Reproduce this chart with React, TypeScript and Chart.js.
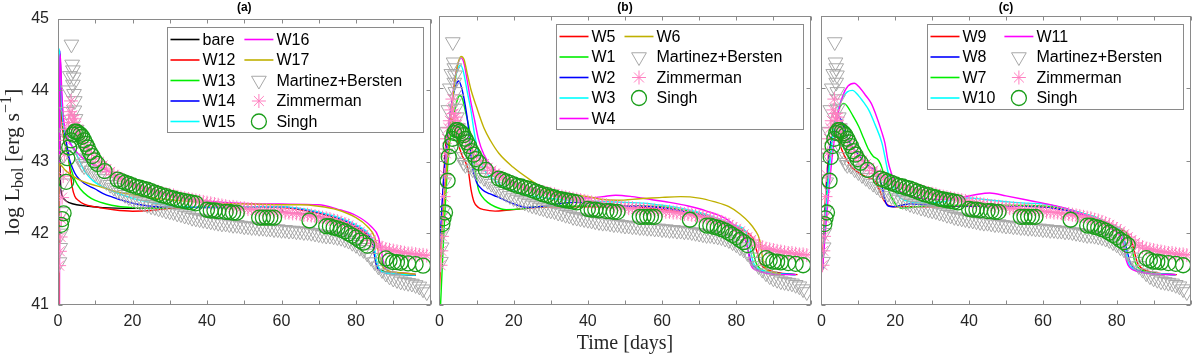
import React, { useEffect, useRef } from 'react';
import { Chart, registerables } from 'chart.js';

Chart.register(...registerables);

type P = [number, number];

// ---------- ticks / texts ----------
const xTickValues = [0, 10, 20, 30, 40, 50, 60, 70, 80, 90, 100];
const xTickLabels = ['0', '', '20', '', '40', '', '60', '', '80', '', ''];
const yTickValues = [41, 42, 43, 44, 45];
const yTickLabels = ['41', '42', '43', '44', '45'];
const xTitle = 'Time [days]';

// ---------- observations (same in all panels) ----------
const martinezBersten: P[] = [
  [0.4, 41.6], [0.6, 41.8], [0.8, 42.0], [1.0, 42.3], [1.3, 42.7], [1.6, 43.1], [2.0, 43.4], [2.4, 43.7],
  [2.8, 44.0], [3.2, 44.2], [3.6, 44.64], [3.8, 44.36], [4.0, 44.28], [4.2, 44.18], [4.0, 44.08], [4.3, 43.95],
  [4.5, 43.85], [4.4, 43.72], [4.7, 43.6], [5.0, 43.45], [5.3, 43.3], [5.6, 43.15], [6.0, 43.05], [6.5, 42.97],
  [7.0, 42.94], [8, 42.93], [9, 42.88], [10, 42.84], [11, 42.8], [12, 42.76], [13, 42.72], [14, 42.68],
  [15, 42.64], [16, 42.6], [17, 42.57], [18, 42.54], [19, 42.51], [20, 42.48], [21, 42.46], [22, 42.44],
  [23, 42.42], [24, 42.4], [25, 42.38], [26, 42.37], [27, 42.35], [28, 42.34], [29, 42.32], [30, 42.31],
  [31, 42.3], [32, 42.28], [33, 42.27], [34, 42.25], [35, 42.24], [36, 42.22], [37, 42.21], [38, 42.2],
  [39, 42.19], [40, 42.18], [41, 42.17], [42, 42.16], [43, 42.15], [44, 42.14], [45, 42.14], [46, 42.13],
  [47, 42.12], [48, 42.12], [49, 42.11], [50, 42.1], [51, 42.1], [52, 42.09], [53, 42.09], [54, 42.08],
  [55, 42.08], [56, 42.07], [57, 42.07], [58, 42.06], [59, 42.06], [60, 42.05], [61, 42.05], [62, 42.04],
  [63, 42.04], [64, 42.03], [65, 42.03], [66, 42.02], [67, 42.02], [68, 42.01], [69, 42.0], [70, 41.99],
  [71, 41.98], [72, 41.97], [73, 41.97], [74, 41.96], [75, 41.95], [76, 41.94], [77, 41.92], [78, 41.9],
  [79, 41.87], [80, 41.84], [81, 41.8], [82, 41.77], [83, 41.72], [84, 41.66], [85, 41.6], [86, 41.54],
  [87, 41.49], [88, 41.44], [89, 41.4], [90, 41.37], [91, 41.35], [92, 41.33], [93, 41.32], [94, 41.31],
  [95, 41.3], [96, 41.28], [97, 41.26], [98, 41.22], [99, 41.18],
];

const zimmerman: P[] = [
  [0.3, 41.55], [0.5, 41.75], [0.7, 41.95], [0.9, 42.2], [1.1, 42.5], [1.4, 42.8], [1.7, 43.1], [2.0, 43.3],
  [2.4, 43.45], [2.8, 43.55], [3.2, 43.7], [3.5, 43.85], [3.8, 43.65], [4.1, 43.55], [4.4, 43.6], [4.8, 43.5],
  [5.2, 43.45], [5.6, 43.4], [6, 43.35], [7, 43.27], [8, 43.19], [9, 43.12], [10, 43.05], [11, 43.0],
  [12, 42.95], [13, 42.9], [14, 42.86], [15, 42.82], [16, 42.79], [17, 42.76], [18, 42.73], [19, 42.71],
  [20, 42.69], [21, 42.67], [22, 42.65], [23, 42.63], [24, 42.62], [25, 42.6], [26, 42.59], [27, 42.58],
  [28, 42.56], [29, 42.55], [30, 42.54], [31, 42.53], [32, 42.51], [33, 42.5], [34, 42.49], [35, 42.48],
  [36, 42.47], [37, 42.46], [38, 42.45], [39, 42.44], [40, 42.43], [41, 42.42], [42, 42.41], [43, 42.4],
  [44, 42.39], [45, 42.38], [46, 42.37], [47, 42.37], [48, 42.36], [49, 42.35], [50, 42.35], [51, 42.34],
  [52, 42.34], [53, 42.33], [54, 42.33], [55, 42.32], [56, 42.32], [57, 42.31], [58, 42.31], [59, 42.3],
  [60, 42.3], [61, 42.29], [62, 42.29], [63, 42.28], [64, 42.28], [65, 42.27], [66, 42.26], [67, 42.26],
  [68, 42.25], [69, 42.24], [70, 42.23], [71, 42.22], [72, 42.21], [73, 42.2], [74, 42.18], [75, 42.17],
  [76, 42.15], [77, 42.13], [78, 42.11], [79, 42.08], [80, 42.05], [81, 42.02], [82, 41.98], [83, 41.94],
  [84, 41.9], [85, 41.86], [86, 41.82], [87, 41.8], [88, 41.78], [89, 41.77], [90, 41.76], [91, 41.75],
  [92, 41.74], [93, 41.73], [94, 41.72], [95, 41.72], [96, 41.71], [97, 41.7], [98, 41.7], [99, 41.69],
];

const singh: P[] = [
  [0.8, 42.12], [1.1, 42.2], [1.5, 42.28], [2.2, 42.72], [2.5, 43.05], [3.0, 43.2], [3.5, 43.3], [4.0, 43.38],
  [4.5, 43.42], [5.0, 43.42], [5.5, 43.4], [6.0, 43.38], [6.5, 43.35], [7.0, 43.3], [7.5, 43.25], [8.0, 43.2],
  [8.6, 43.13], [9.2, 43.08], [9.8, 43.02], [10.6, 42.97], [12.5, 42.87], [16, 42.75], [17, 42.73], [18, 42.71],
  [19, 42.69], [20, 42.67], [21, 42.65], [22, 42.64], [23, 42.62], [24, 42.61], [25, 42.59], [26, 42.57],
  [27, 42.55], [28, 42.53], [29, 42.52], [30, 42.5], [31, 42.49], [32, 42.47], [33, 42.46], [34, 42.45],
  [35, 42.44], [36, 42.43], [37, 42.42], [40, 42.33], [41, 42.32], [42, 42.32], [43, 42.31], [45, 42.3],
  [46, 42.3], [47, 42.29], [48, 42.29], [54, 42.22], [55, 42.22], [56, 42.22], [57, 42.22], [58, 42.22],
  [67.5, 42.18], [72, 42.1], [73, 42.1], [74, 42.08], [75, 42.07], [76, 42.05], [77, 42.03], [78, 42.0],
  [79, 41.97], [80, 41.94], [81, 41.9], [82, 41.87], [83, 41.83], [88, 41.65], [89, 41.62], [90, 41.6],
  [91, 41.6], [92, 41.59], [94, 41.58], [96, 41.57], [98, 41.55],
];

// ---------- panel (a) models ----------
const bare: P[] = [
  [0.15, 41.0], [0.25, 43.0], [0.35, 44.35], [0.45, 43.6], [0.6, 42.85], [0.8, 42.62], [1.2, 42.52], [2, 42.46],
  [3, 42.43], [5, 42.4], [8, 42.38], [12, 42.36], [20, 42.35], [30, 42.36], [40, 42.37], [50, 42.37],
  [59.5, 42.37], [60.5, 42.3], [65, 42.28], [70, 42.24], [75, 42.17], [80, 42.07], [83.5, 41.95], [84.5, 41.85],
  [85.3, 41.62], [86, 41.52], [87.5, 41.47], [91, 41.44], [96, 41.42],
];
const w12: P[] = [
  [0.3, 41.0], [0.35, 43.5], [0.45, 44.5], [0.7, 44.0], [1.0, 43.6], [1.5, 43.35], [2.2, 43.2], [2.8, 43.05],
  [3.3, 42.85], [3.8, 42.65], [4.5, 42.52], [5.5, 42.46], [7, 42.41], [10, 42.37], [15, 42.33], [20, 42.31],
  [25, 42.32], [30, 42.35], [40, 42.37], [50, 42.37], [60, 42.36], [65, 42.33], [70, 42.28], [75, 42.2],
  [80, 42.08], [83.5, 41.95], [84.5, 41.85], [85.3, 41.6], [86, 41.5], [88, 41.46], [92, 41.43], [96, 41.42],
];
const w13: P[] = [
  [0.3, 41.0], [0.4, 44.2], [0.55, 44.5], [0.8, 44.0], [1.5, 43.4], [2.5, 43.1], [3.5, 42.9], [4.5, 42.75],
  [6, 42.62], [8, 42.52], [10, 42.46], [13, 42.41], [16, 42.38], [20, 42.36], [25, 42.35], [30, 42.36],
  [40, 42.37], [50, 42.37], [60, 42.37], [65, 42.34], [70, 42.29], [75, 42.21], [80, 42.1], [83.5, 41.97],
  [84.5, 41.88], [85.3, 41.62], [86, 41.52], [88, 41.46], [92, 41.43], [96, 41.42],
];
const w14: P[] = [
  [0.3, 41.0], [0.4, 44.3], [0.5, 44.55], [0.8, 44.1], [1.2, 43.7], [1.8, 43.4], [2.5, 43.2], [3, 43.05],
  [4, 42.9], [5, 42.8], [7, 42.7], [10, 42.62], [12, 42.56], [15, 42.5], [18, 42.45], [21, 42.41],
  [25, 42.38], [30, 42.37], [40, 42.36], [50, 42.37], [60, 42.37], [65, 42.34], [70, 42.29], [75, 42.22],
  [80, 42.1], [83.5, 41.97], [84.5, 41.87], [85.2, 41.62], [86, 41.5], [88, 41.45], [92, 41.43], [96, 41.42],
];
const w15: P[] = [
  [0.25, 41.0], [0.3, 44.58], [0.6, 44.3], [1, 43.8], [1.5, 43.5], [2, 43.4], [3, 43.3], [5, 43.1],
  [7, 42.88], [9.5, 42.73], [13, 42.63], [16.6, 42.55], [20, 42.49], [25, 42.43], [30, 42.39], [35, 42.37],
  [40, 42.37], [50, 42.37], [60, 42.37], [65, 42.35], [70, 42.3], [75, 42.23], [80, 42.12], [83.5, 41.99],
  [84.7, 41.88], [85.5, 41.62], [86.3, 41.5], [88, 41.45], [92, 41.43], [96, 41.42],
];
const w16: P[] = [
  [0.4, 41.0], [0.45, 44.0], [0.6, 44.5], [1.0, 44.0], [1.5, 43.6], [2.5, 43.35], [4, 43.2], [6, 43.08],
  [8, 43.0], [10, 42.95], [12, 42.91], [15, 42.82], [20, 42.7], [25.5, 42.6], [30, 42.53], [35, 42.48],
  [40, 42.45], [50, 42.42], [60, 42.41], [70, 42.4], [75, 42.34], [80, 42.25], [84, 42.1], [86, 41.95],
  [86.8, 41.75], [87.6, 41.55], [89, 41.47], [92, 41.45], [96, 41.43],
];
const w17: P[] = [
  [0.2, 41.0], [0.3, 42.97], [2, 42.88], [4, 42.8], [6, 42.74], [8, 42.7], [12, 42.64], [16, 42.58],
  [20, 42.54], [25, 42.5], [30, 42.47], [40, 42.43], [50, 42.41], [60, 42.4], [65, 42.4], [70, 42.38],
  [75, 42.33], [80, 42.22], [83, 42.1], [85, 41.95], [86, 41.75], [87, 41.55], [88.5, 41.48], [92, 41.45],
  [96, 41.43],
];

// ---------- panel (b) models ----------
const w5: P[] = [
  [0, 41.2], [0.5, 41.9], [1, 42.6], [1.5, 43.1], [2, 43.35], [2.7, 43.5], [3.5, 43.57], [4.2, 43.45],
  [5, 43.25], [6, 43.08], [7, 42.98], [7.8, 42.85], [8.5, 42.6], [9.3, 42.43], [10.5, 42.35], [12, 42.32],
  [15, 42.3], [18, 42.31], [22, 42.33], [30, 42.36], [40, 42.36], [50, 42.36], [57, 42.34], [65, 42.28],
  [71, 42.22], [76, 42.15], [80, 42.07], [83, 42.0], [84.5, 41.92], [85.5, 41.75], [86.5, 41.58], [88, 41.5],
  [91, 41.45], [96.5, 41.42],
];
const w1: P[] = [
  [0.3, 41.0], [1, 41.8], [1.8, 42.6], [2.5, 43.1], [3.5, 43.5], [4.5, 43.78], [5.5, 43.9], [6.2, 43.85],
  [7, 43.68], [8, 43.45], [9, 43.1], [9.8, 42.8], [10.5, 42.6], [11.5, 42.5], [13, 42.42], [15, 42.36],
  [18, 42.32], [22, 42.33], [26, 42.36], [35, 42.37], [45, 42.37], [55, 42.37], [60, 42.36], [65, 42.32],
  [70, 42.27], [75, 42.19], [80, 42.08], [83, 41.98], [84.3, 41.8], [85.2, 41.6], [86.5, 41.5], [89, 41.45],
  [96, 41.42],
];
const w2: P[] = [
  [0, 41.7], [0.7, 42.4], [1.5, 43.0], [2.5, 43.5], [3.5, 43.85], [4.5, 44.05], [5.2, 44.1], [6, 44.0],
  [7, 43.75], [7.7, 43.5], [8.4, 43.1], [9, 42.88], [10, 42.7], [11.5, 42.6], [13.5, 42.54], [15.5, 42.5],
  [19, 42.42], [23.5, 42.35], [27, 42.36], [32, 42.4], [37, 42.42], [42, 42.4], [50, 42.37], [57, 42.36],
  [63, 42.32], [70, 42.25], [75, 42.17], [79, 42.06], [81.5, 41.98], [82.8, 41.85], [83.8, 41.62], [85, 41.52],
  [87, 41.47], [91, 41.44], [96, 41.42],
];
const w3: P[] = [
  [0, 41.5], [0.8, 42.2], [1.8, 42.9], [2.8, 43.5], [3.8, 43.95], [4.8, 44.25], [5.7, 44.32], [6.5, 44.22],
  [7.5, 43.95], [8.4, 43.72], [9.5, 43.35], [11, 43.0], [12.5, 42.84], [14, 42.76], [17, 42.65], [21.6, 42.55],
  [26, 42.5], [30.5, 42.47], [35, 42.45], [40, 42.44], [45, 42.43], [50, 42.42], [55, 42.41], [60, 42.38],
  [65, 42.34], [70, 42.28], [75, 42.2], [80, 42.1], [82.5, 42.02], [83.5, 41.85], [84.5, 41.6], [85.5, 41.52],
  [88, 41.46], [92, 41.43], [96, 41.42],
];
const w4: P[] = [
  [0, 41.5], [0.8, 42.2], [1.8, 42.9], [2.8, 43.5], [3.8, 44.0], [4.8, 44.3], [5.8, 44.42], [6.6, 44.35],
  [7.5, 44.1], [8.5, 43.8], [9.5, 43.55], [10.5, 43.3], [12, 43.08], [14, 42.92], [17, 42.78], [21, 42.66],
  [26, 42.58], [30, 42.53], [35, 42.49], [40, 42.48], [44, 42.5], [47.5, 42.52], [52, 42.5], [57, 42.46],
  [62, 42.42], [67, 42.37], [72, 42.3], [77, 42.2], [80, 42.08], [82, 41.98], [83, 41.8], [84, 41.55],
  [85.5, 41.48], [88, 41.44], [92, 41.42], [96, 41.42],
];
const w6: P[] = [
  [0, 41.4], [0.8, 42.1], [1.8, 42.8], [2.8, 43.4], [3.8, 43.95], [4.8, 44.3], [5.8, 44.44], [6.6, 44.4],
  [7.5, 44.2], [8.5, 43.98], [10, 43.74], [12, 43.45], [13.7, 43.28], [16, 43.1], [19.8, 42.91], [24, 42.75],
  [28.7, 42.6], [32, 42.55], [36, 42.52], [40, 42.5], [44, 42.46], [48, 42.45], [54, 42.47], [60, 42.49],
  [65, 42.5], [70, 42.48], [74, 42.43], [78, 42.36], [81, 42.26], [83.5, 42.14], [85, 42.04], [86.3, 41.9],
  [87.1, 41.65], [88, 41.5], [90, 41.45], [92, 41.43],
];

// ---------- panel (c) models ----------
const w9: P[] = [
  [0.3, 41.6], [0.9, 42.3], [1.6, 42.9], [2.4, 43.2], [3.5, 43.38], [4.5, 43.3], [5.5, 43.15], [6.6, 43.03],
  [8, 42.92], [9.5, 42.85], [11, 42.8], [12.8, 42.76], [14.5, 42.72], [15.5, 42.62], [16.4, 42.5], [17.5, 42.41],
  [18.5, 42.37], [20, 42.36], [30, 42.36], [40, 42.37], [50, 42.37], [60, 42.36], [65, 42.33], [70, 42.27],
  [75, 42.18], [80, 42.06], [83.5, 41.95], [84.5, 41.8], [85.5, 41.6], [86.5, 41.52], [89, 41.46], [93, 41.43],
  [96.3, 41.42],
];
const w8: P[] = [
  [0.4, 41.5], [1, 42.3], [1.8, 42.9], [2.8, 43.35], [3.8, 43.55], [4.8, 43.6], [5.8, 43.5], [7, 43.32],
  [8.4, 43.19], [10, 43.08], [12, 42.96], [13.5, 42.9], [14.7, 42.86], [15.9, 42.73], [16.6, 42.6], [17.2, 42.45],
  [18.1, 42.37], [19.5, 42.36], [21.6, 42.38], [24, 42.4], [30, 42.38], [40, 42.37], [50, 42.37], [60, 42.36],
  [65, 42.32], [70, 42.26], [75, 42.17], [79.4, 42.03], [81.9, 41.92], [82.8, 41.75], [83.8, 41.57], [85, 41.5],
  [88, 41.45], [92, 41.43], [96, 41.42],
];
const w7: P[] = [
  [0.3, 41.5], [1, 42.2], [2, 42.9], [3, 43.35], [4, 43.6], [5, 43.74], [6.1, 43.79], [7, 43.75],
  [8.5, 43.62], [10.1, 43.47], [11.5, 43.3], [12.8, 43.15], [14, 43.06], [15.5, 43.0], [16.5, 42.88], [17.2, 42.73],
  [18.5, 42.55], [19.9, 42.41], [21.6, 42.34], [24, 42.35], [28, 42.37], [40, 42.38], [50, 42.38], [60, 42.37],
  [65, 42.34], [70, 42.28], [75, 42.2], [80, 42.08], [83, 41.97], [84, 41.82], [84.8, 41.62], [85.8, 41.52],
  [88, 41.46], [92, 41.43], [96, 41.42],
];
const w10: P[] = [
  [0.3, 41.5], [1, 42.1], [2, 42.8], [3, 43.3], [4, 43.6], [5.5, 43.85], [7, 43.95], [8.4, 43.97],
  [10, 43.9], [11.5, 43.8], [12.8, 43.7], [14.5, 43.5], [16.4, 43.24], [17.2, 43.05], [18.1, 42.83], [19.9, 42.59],
  [21, 42.5], [22.5, 42.45], [25, 42.42], [28.7, 42.41], [33, 42.43], [37, 42.47], [40, 42.48], [44, 42.46],
  [50, 42.43], [55, 42.41], [60, 42.4], [65, 42.35], [70, 42.28], [75, 42.2], [79, 42.1], [81.5, 42.0],
  [82.3, 41.8], [83.2, 41.58], [84.5, 41.5], [87, 41.45], [92, 41.43], [96, 41.42],
];
const w11: P[] = [
  [0.3, 41.5], [1.2, 42.1], [2.4, 42.8], [3.5, 43.3], [4.5, 43.65], [5.8, 43.9], [7.2, 44.03], [8.9, 44.07],
  [10.5, 44.0], [12, 43.9], [13.5, 43.79], [15, 43.6], [16.3, 43.4], [17.2, 43.24], [18, 43.0], [18.9, 42.83],
  [20.5, 42.62], [23, 42.53], [27, 42.48], [32, 42.46], [37, 42.48], [42, 42.53], [45.6, 42.55], [50, 42.51],
  [57, 42.44], [62, 42.39], [66, 42.34], [70, 42.27], [75, 42.18], [80.3, 41.99], [81.8, 41.85], [82.6, 41.62],
  [83.5, 41.52], [86, 41.46], [90, 41.43], [96, 41.42],
];

// ---------- styles ----------
const RED = '#ff0000';
const GREEN = '#00ee00';
const BLUE = '#0000ff';
const CYAN = '#00ffff';
const MAGENTA = '#ff00ff';
const OLIVE = '#bfb000';
const BLACK = '#000000';
const TRI_GREY = '#a8a8a8';
const PINK = '#ff7fc0';
const SINGH_GREEN = '#1a9e1a';
const AXIS_GREY = '#8a8a8a';
const TEXT = '#262626';
const SANS = '"Liberation Sans", Arial, Helvetica, sans-serif';
const SERIF = '"Liberation Serif", "Times New Roman", serif';

interface LineSeries { label: string; data: P[]; color: string }
interface PanelCfg {
  title: string;
  lines: LineSeries[];
  rows: number;
  left: number;
  width: number;
  padLeft: number;
  padRight: number;
  showY: boolean;
  showXTitle: boolean;
}

const panels: PanelCfg[] = [
  {
    title: '(a)',
    lines: [
      { label: 'bare', data: bare, color: BLACK },
      { label: 'W12', data: w12, color: RED },
      { label: 'W13', data: w13, color: GREEN },
      { label: 'W14', data: w14, color: BLUE },
      { label: 'W15', data: w15, color: CYAN },
      { label: 'W16', data: w16, color: MAGENTA },
      { label: 'W17', data: w17, color: OLIVE },
    ],
    rows: 5, left: 0, width: 440, padLeft: 0, padRight: 7, showY: true, showXTitle: false,
  },
  {
    title: '(b)',
    lines: [
      { label: 'W5', data: w5, color: RED },
      { label: 'W1', data: w1, color: GREEN },
      { label: 'W2', data: w2, color: BLUE },
      { label: 'W3', data: w3, color: CYAN },
      { label: 'W4', data: w4, color: MAGENTA },
      { label: 'W6', data: w6, color: OLIVE },
    ],
    rows: 5, left: 428, width: 392, padLeft: 10, padRight: 7, showY: false, showXTitle: true,
  },
  {
    title: '(c)',
    lines: [
      { label: 'W9', data: w9, color: RED },
      { label: 'W8', data: w8, color: BLUE },
      { label: 'W7', data: w7, color: GREEN },
      { label: 'W10', data: w10, color: CYAN },
      { label: 'W11', data: w11, color: MAGENTA },
    ],
    rows: 4, left: 810, width: 390, padLeft: 9, padRight: 6, showY: false, showXTitle: false,
  },
];

// ---------- drawing helpers ----------
function drawMarker(ctx: CanvasRenderingContext2D, style: string, x: number, y: number, r: number, rotDeg: number, color: string, lw: number) {
  ctx.save();
  ctx.strokeStyle = color;
  ctx.lineWidth = lw;
  ctx.beginPath();
  if (style === 'triangle') {
    let rad = (rotDeg * Math.PI) / 180;
    ctx.moveTo(x + Math.sin(rad) * r, y - Math.cos(rad) * r);
    rad += (2 * Math.PI) / 3;
    ctx.lineTo(x + Math.sin(rad) * r, y - Math.cos(rad) * r);
    rad += (2 * Math.PI) / 3;
    ctx.lineTo(x + Math.sin(rad) * r, y - Math.cos(rad) * r);
    ctx.closePath();
  } else if (style === 'star') {
    ctx.moveTo(x, y - r); ctx.lineTo(x, y + r);
    ctx.moveTo(x - r, y); ctx.lineTo(x + r, y);
    const d = r * Math.SQRT1_2;
    ctx.moveTo(x - d, y - d); ctx.lineTo(x + d, y + d);
    ctx.moveTo(x - d, y + d); ctx.lineTo(x + d, y - d);
  } else {
    ctx.arc(x, y, r, 0, Math.PI * 2);
  }
  ctx.stroke();
  ctx.restore();
}

function drawYLabel(ctx: CanvasRenderingContext2D, cx: number, cy: number) {
  const big = 22;
  const small = 16;
  const segs = [
    { t: 'log L', s: big, dy: 0 },
    { t: 'bol', s: small, dy: 4 },
    { t: ' [erg s', s: big, dy: 0 },
    { t: '\u22121', s: small, dy: -8 },
    { t: ']', s: big, dy: 0 },
  ];
  ctx.save();
  ctx.translate(cx, cy);
  ctx.rotate(-Math.PI / 2);
  ctx.fillStyle = TEXT;
  ctx.textBaseline = 'alphabetic';
  ctx.textAlign = 'left';
  let total = 0;
  const widths = segs.map((sg) => {
    ctx.font = `${sg.s}px ${SERIF}`;
    const w = ctx.measureText(sg.t).width;
    total += w;
    return w;
  });
  let x = -total / 2;
  const base = 5;
  segs.forEach((sg, i) => {
    ctx.font = `${sg.s}px ${SERIF}`;
    ctx.fillText(sg.t, x, base + sg.dy);
    x += widths[i];
  });
  ctx.restore();
}

function makeDecoPlugin(cfg: PanelCfg) {
  return {
    id: 'panelDeco',
    afterDraw(chart: any) {
      const ctx: CanvasRenderingContext2D = chart.ctx;
      const area = chart.chartArea;
      const xs = chart.scales.x;
      const ys = chart.scales.y;
      const L = Math.round(area.left) + 0.5;
      const R = Math.round(area.right) - 0.5;
      const T = Math.round(area.top) + 0.5;
      const B = Math.round(area.bottom) - 0.5;
      ctx.save();
      ctx.strokeStyle = AXIS_GREY;
      ctx.lineWidth = 1;
      ctx.strokeRect(L, T, R - L, B - T);
      const tl = 4;
      ctx.beginPath();
      for (const v of xTickValues) {
        const px = Math.round(xs.getPixelForValue(v)) + 0.5;
        ctx.moveTo(px, B); ctx.lineTo(px, B - tl);
        ctx.moveTo(px, T); ctx.lineTo(px, T + tl);
      }
      for (const v of yTickValues) {
        const py = Math.round(ys.getPixelForValue(v)) + 0.5;
        ctx.moveTo(L, py); ctx.lineTo(L + tl, py);
        ctx.moveTo(R, py); ctx.lineTo(R - tl, py);
      }
      ctx.stroke();

      // panel title
      ctx.fillStyle = '#000';
      ctx.font = `bold 12px ${SANS}`;
      ctx.textAlign = 'center';
      ctx.textBaseline = 'middle';
      ctx.fillText(cfg.title, (area.left + area.right) / 2, 8);

      if (cfg.showY) drawYLabel(ctx, 14, (area.top + area.bottom) / 2);

      // legend (two columns, column-major)
      const ds = chart.data.datasets;
      const rows = cfg.rows;
      ctx.font = `16px ${SANS}`;
      const col1 = ds.slice(0, rows);
      const col2 = ds.slice(rows);
      const w1 = Math.max(...col1.map((d: any) => ctx.measureText(d.label).width));
      const w2 = Math.max(...col2.map((d: any) => ctx.measureText(d.label).width));
      const pad = 3, sample = 29, gapT = 3, colGap = 9, rightPad = 22, rowH = 20.5;
      const width = pad + sample + gapT + w1 + colGap + sample + gapT + w2 + rightPad;
      const height = rows * rowH + 2.5;
      const right = Math.round(area.right - 8) + 0.5;
      const left = Math.round(right - width) + 0.5;
      const top = Math.round(area.top + 8) + 0.5;
      ctx.fillStyle = '#ffffff';
      ctx.fillRect(left, top, right - left, height);
      ctx.strokeStyle = AXIS_GREY;
      ctx.lineWidth = 1;
      ctx.strokeRect(left, top, right - left, Math.round(height));
      ds.forEach((d: any, i: number) => {
        const col = i < rows ? 0 : 1;
        const r = i % rows;
        const cy = top + 12 + r * rowH;
        const sx = left + pad + (col ? sample + gapT + w1 + colGap : 0);
        if (d.showLine === false) {
          drawMarker(ctx, d.pointStyle, sx + sample / 2, cy, d.pointRadius, d.pointRotation || 0, d.pointBorderColor, d.pointBorderWidth);
        } else {
          ctx.strokeStyle = d.borderColor;
          ctx.lineWidth = 1.6;
          ctx.beginPath();
          ctx.moveTo(sx, cy);
          ctx.lineTo(sx + sample, cy);
          ctx.stroke();
        }
        ctx.fillStyle = '#000';
        ctx.font = `16px ${SANS}`;
        ctx.textAlign = 'left';
        ctx.textBaseline = 'middle';
        ctx.fillText(d.label, sx + sample + gapT, cy + 1);
      });
      ctx.restore();
    },
  };
}

function toXY(arr: P[]) {
  return arr.map(([x, y]) => ({ x, y }));
}

function buildConfig(cfg: PanelCfg): any {
  const n = cfg.lines.length;
  const lineSets = cfg.lines.map((s, i) => ({
    label: s.label,
    data: toXY(s.data),
    borderColor: s.color,
    backgroundColor: s.color,
    borderWidth: 1.4,
    pointRadius: 0,
    fill: false,
    cubicInterpolationMode: 'monotone',
    order: 100 - i,
    clip: 0,
  }));
  const obsSets = [
    {
      label: 'Martinez+Bersten', data: toXY(martinezBersten), showLine: false,
      pointStyle: 'triangle', pointRotation: 180, pointRadius: 8.5,
      pointBorderColor: TRI_GREY, pointBackgroundColor: 'rgba(0,0,0,0)', pointBorderWidth: 1,
      borderColor: TRI_GREY, backgroundColor: 'rgba(0,0,0,0)', order: 3, clip: 0,
    },
    {
      label: 'Zimmerman', data: toXY(zimmerman), showLine: false,
      pointStyle: 'star', pointRotation: 0, pointRadius: 7,
      pointBorderColor: PINK, pointBackgroundColor: 'rgba(0,0,0,0)', pointBorderWidth: 1,
      borderColor: PINK, backgroundColor: 'rgba(0,0,0,0)', order: 2, clip: 0,
    },
    {
      label: 'Singh', data: toXY(singh), showLine: false,
      pointStyle: 'circle', pointRotation: 0, pointRadius: 7.5,
      pointBorderColor: SINGH_GREEN, pointBackgroundColor: 'rgba(0,0,0,0)', pointBorderWidth: 1.3,
      borderColor: SINGH_GREEN, backgroundColor: 'rgba(0,0,0,0)', order: 1, clip: 0,
    },
  ];
  void n;
  return {
    type: 'line',
    data: { datasets: [...lineSets, ...obsSets] },
    options: {
      responsive: false,
      maintainAspectRatio: false,
      devicePixelRatio: 1,
      animation: false,
      events: [],
      layout: { padding: { top: 16, bottom: 0, left: cfg.padLeft, right: cfg.padRight } },
      plugins: {
        legend: { display: false },
        tooltip: { enabled: false },
        title: { display: false },
      },
      scales: {
        x: {
          type: 'linear',
          min: 0,
          max: 100,
          grid: { display: false, drawTicks: false },
          border: { display: false },
          ticks: {
            stepSize: 10,
            autoSkip: false,
            maxRotation: 0,
            minRotation: 0,
            padding: 7,
            color: TEXT,
            font: { family: SANS, size: 16 },
            callback: (v: number) => {
              const idx = xTickValues.indexOf(v);
              return idx >= 0 ? xTickLabels[idx] : '';
            },
          },
          title: {
            display: cfg.showXTitle,
            text: xTitle,
            color: TEXT,
            font: { family: SERIF, size: 20 },
            padding: { top: 0, bottom: 0 },
          },
          afterFit: (s: any) => { s.height = 51; },
        },
        y: {
          type: 'linear',
          min: 41,
          max: 45,
          display: cfg.showY,
          grid: { display: false, drawTicks: false },
          border: { display: false },
          ticks: {
            stepSize: 1,
            padding: 9,
            color: TEXT,
            font: { family: SANS, size: 16 },
            callback: (v: number) => {
              const idx = yTickValues.indexOf(v);
              return idx >= 0 ? yTickLabels[idx] : '';
            },
          },
          afterFit: (s: any) => { if (cfg.showY) s.width = 58; },
        },
      },
    },
    plugins: [makeDecoPlugin(cfg)],
  };
}

function Panel({ cfg }: { cfg: PanelCfg }) {
  const ref = useRef<HTMLCanvasElement>(null);
  useEffect(() => {
    if (!ref.current) return;
    const chart = new Chart(ref.current, buildConfig(cfg));
    return () => chart.destroy();
  }, [cfg]);
  return (
    <canvas
      ref={ref}
      width={cfg.width}
      height={356}
      style={{ position: 'absolute', left: cfg.left, top: 0, width: cfg.width, height: 356 }}
    />
  );
}

export default function App() {
  return (
    <div style={{ position: 'absolute', left: 0, top: 0, width: 1200, height: 356, background: '#ffffff', overflow: 'hidden' }}>
      {panels.map((p, i) => (
        <Panel key={i} cfg={p} />
      ))}
    </div>
  );
}
